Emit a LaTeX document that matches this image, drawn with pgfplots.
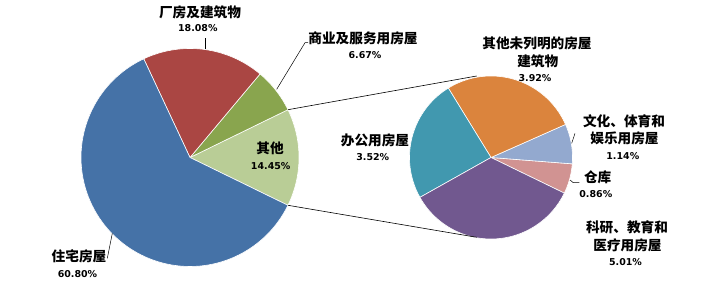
\documentclass[border=0pt]{standalone}
\usepackage{fontspec}
\usepackage{pgfplots}
\pgfplotsset{compat=1.18}
\newfontfamily\cjk{Noto Sans CJK SC}
\newfontfamily\numf{DejaVu Sans}
\definecolor{cA}{HTML}{4572A7}
\definecolor{cB}{HTML}{AA4643}
\definecolor{cC}{HTML}{89A54E}
\definecolor{cD}{HTML}{B9CD96}
\definecolor{cE}{HTML}{DB843D}
\definecolor{cF}{HTML}{93A9CF}
\definecolor{cG}{HTML}{D19392}
\definecolor{cH}{HTML}{71588F}
\definecolor{cI}{HTML}{4198AF}
% data (percent)
\def\pZhuzhai{60.80}
\def\pChangfang{18.08}
\def\pShangye{6.67}
\def\pQita{14.45}
\def\pWeilie{3.92}
\def\pWenhua{1.14}
\def\pCangku{0.86}
\def\pKeyan{5.01}
\def\pBangong{3.52}
\newcommand{\slice}[6]{%
  \addplot[fill=#6, draw=white, line width=0.6pt, domain=#4:#5, samples=90, variable=\t]
    ({#1+#3*cos(\t)},{#2+#3*sin(\t)}) -- (axis cs:#1,#2) -- cycle;}
\newcommand{\cj}[1]{{\cjk\bfseries\fontsize{13.7}{15}\selectfont #1}}
\newcommand{\nm}[1]{{\numf\bfseries\fontsize{9.5}{11}\selectfont #1}}
\begin{document}
\begin{tikzpicture}
\pgfmathsetmacro{\la}{-\pQita*1.8}
\pgfmathsetmacro{\lb}{\la+\pQita*3.6}
\pgfmathsetmacro{\lc}{\lb+\pShangye*3.6}
\pgfmathsetmacro{\ld}{\lc+\pChangfang*3.6}
\pgfmathsetmacro{\le}{\ld+\pZhuzhai*3.6}
\pgfmathsetmacro{\k}{360/\pQita}
\pgfmathsetmacro{\ra}{-25.9}
\pgfmathsetmacro{\rb}{\ra+\pCangku*\k}
\pgfmathsetmacro{\rc}{\rb+\pWenhua*\k}
\pgfmathsetmacro{\rd}{\rc+\pWeilie*\k}
\pgfmathsetmacro{\re}{\rd+\pBangong*\k}
\pgfmathsetmacro{\rf}{\re+\pKeyan*\k}
\begin{axis}[width=709bp, height=283bp, scale only axis, xmin=0, xmax=709, ymin=0, ymax=283, hide axis, clip=false]
\path (rel axis cs:0,0) rectangle (rel axis cs:1,1);
% left pie
\slice{190}{125.5}{109}{\la}{\lb}{cD}
\slice{190}{125.5}{109}{\lb}{\lc}{cC}
\slice{190}{125.5}{109}{\lc}{\ld}{cB}
\slice{190}{125.5}{109}{\ld}{\le}{cA}
% right pie
\slice{491}{125.5}{81.5}{\ra}{\rb}{cG}
\slice{491}{125.5}{81.5}{\rb}{\rc}{cF}
\slice{491}{125.5}{81.5}{\rc}{\rd}{cE}
\slice{491}{125.5}{81.5}{\rd}{\re}{cI}
\slice{491}{125.5}{81.5}{\re}{\rf}{cH}
% connectors
\addplot[black, line width=0.6pt] coordinates {(288.0,173.3) (476.7,207)};
\addplot[black, line width=0.6pt] coordinates {(288.0,77.7) (476.7,45.7)};
% leaders
\addplot[black, line width=0.5pt] coordinates {(205,234) (205,245)};
\addplot[black, line width=0.5pt] coordinates {(276.7,193.7) (305,240.3) (308,240.3)};
\addplot[black, line width=0.5pt] coordinates {(112.3,49.7) (107.3,24.7)};
\addplot[black, line width=0.5pt] coordinates {(571.7,139.7) (575,149.7)};
\addplot[black, line width=0.5pt] coordinates {(570,103) (573.3,100.3) (579.3,100.3)};
% labels
\node[inner sep=0] at (axis cs:200,270.7) {\cj{厂房及建筑物}};
\node[inner sep=0] at (axis cs:197.8,254.7) {\nm{\pChangfang\%}};
\node[inner sep=0] at (axis cs:363,244.7) {\cj{商业及服务用房屋}};
\node[inner sep=0] at (axis cs:365,228) {\nm{\pShangye\%}};
\node[inner sep=0] at (axis cs:270,134.7) {\cj{其他}};
\node[inner sep=0] at (axis cs:270.7,117.3) {\nm{\pQita\%}};
\node[inner sep=0] at (axis cs:79,27) {\cj{住宅房屋}};
\node[inner sep=0] at (axis cs:77.5,9.3) {\nm{\pZhuzhai\%}};
\node[inner sep=0] at (axis cs:537,239.7) {\cj{其他未列明的房屋}};
\node[inner sep=0] at (axis cs:537.8,221.3) {\cj{建筑物}};
\node[inner sep=0] at (axis cs:535,205.3) {\nm{\pWeilie\%}};
\node[inner sep=0] at (axis cs:624,161.3) {\cj{文化、体育和}};
\node[inner sep=0] at (axis cs:624.5,144.7) {\cj{娱乐用房屋}};
\node[inner sep=0] at (axis cs:622.8,127.3) {\nm{\pWenhua\%}};
\node[inner sep=0] at (axis cs:597.7,105.7) {\cj{仓库}};
\node[inner sep=0] at (axis cs:595.8,89) {\nm{\pCangku\%}};
\node[inner sep=0] at (axis cs:627,55.3) {\cj{科研、教育和}};
\node[inner sep=0] at (axis cs:627.5,37.3) {\cj{医疗用房屋}};
\node[inner sep=0] at (axis cs:625.5,21.3) {\nm{\pKeyan\%}};
\node[inner sep=0] at (axis cs:375,143) {\cj{办公用房屋}};
\node[inner sep=0] at (axis cs:372.8,126.3) {\nm{\pBangong\%}};
\end{axis}
\end{tikzpicture}
\end{document}
